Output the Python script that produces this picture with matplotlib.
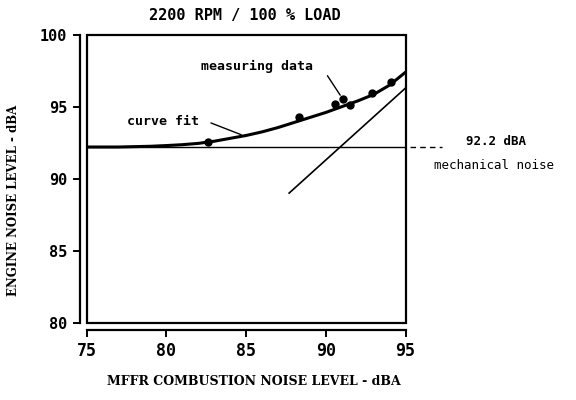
import numpy as np
import matplotlib.pyplot as plt
from matplotlib.patches import Rectangle

meas_x = [82.6, 88.3, 90.6, 91.05, 91.5, 92.9, 94.1]
meas_y = [92.55, 94.3, 95.2, 95.5, 95.1, 95.95, 96.7]

# curve fit
fit_x = [75, 77, 79, 80, 81, 82, 83, 84, 85, 86, 87, 88, 89, 90, 91, 92, 93, 94, 95]
fit_y = [92.2, 92.2, 92.25, 92.3, 92.36, 92.45, 92.6, 92.8, 93.0, 93.25, 93.55,
         93.9, 94.25, 94.6, 95.0, 95.4, 95.85, 96.5, 97.4]

# combustion noise line
line_x = [87.7, 95]
line_y = [89.0, 96.3]

mech_noise = 92.2

xticks = [75, 80, 85, 90, 95]
yticks = [80, 85, 90, 95, 100]

mono = "DejaVu Sans Mono"
serif = "DejaVu Serif"

fig = plt.figure(figsize=(5.76, 4.0), dpi=100)
ax = fig.add_axes([0.1502, 0.1933, 0.554, 0.72])

ax.plot(fit_x, fit_y, color="k", lw=2.2, solid_capstyle="round")
ax.plot(meas_x, meas_y, "o", color="k", ms=5)
ax.plot(line_x, line_y, color="k", lw=1.2)
ax.axhline(mech_noise, color="k", lw=1.0)
ax.plot([95.3, 97.3], [mech_noise, mech_noise], color="k", lw=1.0,
        ls=(0, (4, 3)), clip_on=False)

for s in ["top", "right"]:
    ax.spines[s].set_visible(False)
ax.spines["left"].set_position(("outward", 5))
ax.spines["bottom"].set_position(("outward", 5))
ax.spines["left"].set_linewidth(1.6)
ax.spines["bottom"].set_linewidth(1.6)

ax.set_xlim(75, 95)
ax.set_ylim(80, 100)
ax.set_xticks(xticks)
ax.set_yticks(yticks)
ax.set_xticklabels([str(t) for t in xticks], fontfamily=mono, fontweight="bold", fontsize=12)
ax.set_yticklabels([str(t) for t in yticks], fontfamily=mono, fontweight="bold", fontsize=11)
ax.tick_params(direction="out", length=5, width=1.4, pad=4)
ax.add_patch(Rectangle((0, 0), 1, 1, transform=ax.transAxes, fill=False,
                       lw=1.6, ec="k", clip_on=False, zorder=5))

fig.text(0.425, 0.962, "2200 RPM / 100 % LOAD", ha="center", va="center",
         fontfamily=mono, fontweight="bold", fontsize=11)
fig.text(0.44, 0.047, "MFFR COMBUSTION NOISE LEVEL - dBA", ha="center", va="center",
         fontfamily=serif, fontweight="bold", fontsize=9)
fig.text(0.024, 0.50, "ENGINE NOISE LEVEL - dBA", ha="center", va="center",
         rotation=90, fontfamily=serif, fontweight="bold", fontsize=8.5)

ax.text(85.7, 97.76, "measuring data", ha="center", va="center",
        fontfamily=mono, fontweight="bold", fontsize=9.5)
ax.annotate("", xy=(90.9, 95.8), xytext=(90.1, 97.15),
            arrowprops=dict(arrowstyle="-", color="k", lw=1.0, shrinkA=0, shrinkB=0))
ax.text(79.8, 94.0, "curve fit", ha="center", va="center",
        fontfamily=mono, fontweight="bold", fontsize=9.5)
ax.annotate("", xy=(84.7, 93.05), xytext=(82.8, 93.87),
            arrowprops=dict(arrowstyle="-", color="k", lw=1.0, shrinkA=0, shrinkB=0))

ax.text(98.8, 92.55, "92.2 dBA", ha="left", va="center",
        fontfamily=mono, fontweight="bold", fontsize=9, clip_on=False)
ax.text(96.8, 90.9, "mechanical noise", ha="left", va="center",
        fontfamily=mono, fontsize=9, clip_on=False)

fig.savefig("out.png", dpi=100)
